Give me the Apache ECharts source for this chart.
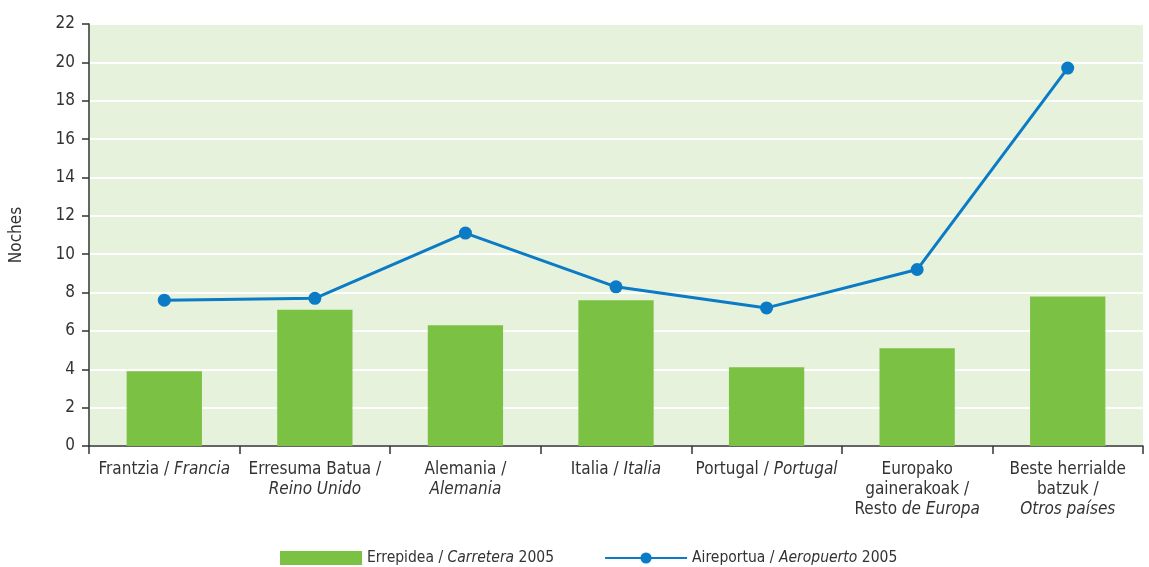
<!DOCTYPE html>
<html>
<head>
<meta charset="utf-8">
<script src="https://cdn.jsdelivr.net/npm/echarts@6/dist/echarts.min.js"></script>
<style>
  html, body { margin: 0; padding: 0; background: #ffffff; }
  #main { width: 1149px; height: 567px; }
</style>
</head>
<body>
<div id="main"></div>
<script>
var FONT = '"Liberation Sans Narrow", "DejaVu Sans Condensed", "Roboto", sans-serif';

// categories (rich text: {i|...} = italic)
var categories = [
  'Frantzia / {i|Francia}',
  'Erresuma Batua /\n{i|Reino Unido}',
  'Alemania /\n{i|Alemania}',
  'Italia / {i|Italia}',
  'Portugal / {i|Portugal}',
  'Europako\ngainerakoak /\nResto {i|de Europa}',
  'Beste herrialde\nbatzuk /\n{i|Otros países}'
];
var carretera = [3.9, 7.1, 6.3, 7.6, 4.1, 5.1, 7.8];
var aeropuerto = [7.6, 7.7, 11.1, 8.3, 7.2, 9.2, 19.7];
var yTicks = { min: 0, max: 22, interval: 2 };

var chart = echarts.init(document.getElementById('main'));

var txt = { fontFamily: FONT, fontSize: 17, color: '#333333' };
var rich = {
  i: { fontFamily: FONT, fontSize: 17, fontStyle: 'italic', color: '#333333', lineHeight: 20 }
};
var legendRich = {
  i: { fontFamily: FONT, fontSize: 15.5, fontStyle: 'italic', color: '#333333' }
};

var option = {
  backgroundColor: '#ffffff',
  textStyle: { fontFamily: FONT },
  grid: { left: 89, right: 6, top: 24, bottom: 121, show: true, backgroundColor: '#e7f2dd', borderWidth: 0 },
  legend: {
    bottom: -4,
    left: 275,
    itemWidth: 82,
    itemHeight: 14,
    itemGap: 50,
    selectedMode: false,
    textStyle: { fontFamily: FONT, fontSize: 15.5, color: '#333333', rich: legendRich },
    formatter: function (name) {
      if (name === 'Carretera') return 'Errepidea / {i|Carretera} 2005';
      return 'Aireportua / {i|Aeropuerto} 2005';
    },
    data: [{ name: 'Carretera', icon: 'rect' }, { name: 'Aeropuerto' }]
  },
  xAxis: {
    type: 'category',
    data: categories,
    axisLine: { lineStyle: { color: '#333333', width: 1.5 } },
    axisTick: { show: true, length: 8, lineStyle: { color: '#333333', width: 1.5 } },
    axisLabel: {
      interval: 0, margin: 14, fontFamily: FONT, fontSize: 17, color: '#333333',
      lineHeight: 20, rich: rich
    }
  },
  yAxis: {
    type: 'value',
    min: yTicks.min, max: yTicks.max, interval: yTicks.interval,
    name: 'Noches',
    nameLocation: 'middle',
    nameGap: 64,
    nameTextStyle: txt,
    axisLine: { show: true, lineStyle: { color: '#333333', width: 1.5 } },
    axisTick: { show: true, length: 7, lineStyle: { color: '#333333', width: 1.5 } },
    axisLabel: { margin: 14, fontFamily: FONT, fontSize: 17, color: '#333333' },
    splitLine: { lineStyle: { color: '#ffffff', width: 2 } }
  },
  series: [
    {
      name: 'Carretera',
      type: 'bar',
      data: carretera,
      barWidth: '50%',
      itemStyle: { color: '#7bc143' }
    },
    {
      name: 'Aeropuerto',
      type: 'line',
      data: aeropuerto,
      symbol: 'circle',
      symbolSize: 13,
      lineStyle: { color: '#0a7bc4', width: 3 },
      itemStyle: { color: '#0a7bc4' }
    }
  ]
};

chart.setOption(option);
</script>
</body>
</html>
